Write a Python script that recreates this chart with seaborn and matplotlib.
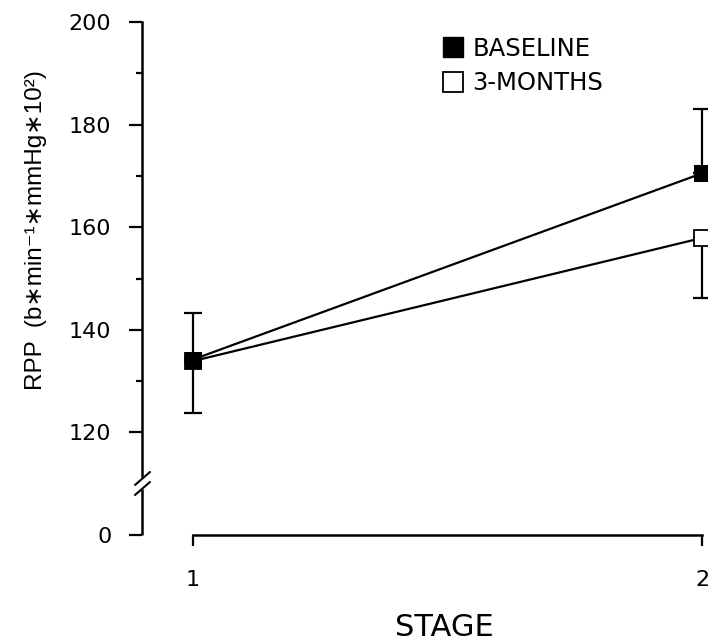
"""
RPP by exercise stage: baseline vs 3 months
y axis broken between 0 and 120
"""

import matplotlib
matplotlib.use("Agg")
import matplotlib.pyplot as plt
from matplotlib.lines import Line2D
import numpy as np
import pandas as pd
import seaborn as sns

# data
stages = [1, 2]
baseline_rpp = [134.2, 170.5]
baseline_err_up = [9.1, 12.6]
months3_rpp = [133.9, 157.9]
months3_err_down = [10.2, 11.7]

group_labels = ["BASELINE", "3-MONTHS"]
y_major = [0, 120, 140, 160, 180, 200]
y_minor = [130, 150, 170, 190]


def fwd(v):
    v = np.asarray(v, dtype=float)
    return np.where(v < 110, 100 + v / 11.0, v)


def inv(d):
    d = np.asarray(d, dtype=float)
    return np.where(d < 110, (d - 100) * 11.0, d)


df = pd.DataFrame({
    "stage": stages * 2,
    "rpp": baseline_rpp + months3_rpp,
    "group": [group_labels[0]] * 2 + [group_labels[1]] * 2,
})

sns.set_style("ticks")
plt.rcParams["font.family"] = ["DejaVu Sans"]
for k in ["text.color", "axes.labelcolor", "xtick.color", "ytick.color", "axes.edgecolor"]:
    plt.rcParams[k] = "black"

fig = plt.figure(figsize=(7.08, 6.44), dpi=100)
ax = fig.add_axes([142 / 708, 109 / 644, 566 / 708, 513 / 644])
ax.set_yscale("function", functions=(fwd, inv))

# error bars first so the markers sit on top
ax.errorbar(stages, baseline_rpp, yerr=[np.zeros(2), baseline_err_up],
            fmt="none", ecolor="black", elinewidth=1.6, capsize=6.5, capthick=1.6, zorder=2)
ax.errorbar(stages, months3_rpp, yerr=[months3_err_down, np.zeros(2)],
            fmt="none", ecolor="black", elinewidth=1.6, capsize=6.5, capthick=1.6, zorder=2)

sub = df[df["group"] == group_labels[1]]
sns.lineplot(data=sub, x="stage", y="rpp", ax=ax, color="black", lw=1.6,
             marker="s", markersize=11, markerfacecolor="white",
             markeredgecolor="black", markeredgewidth=1.3, zorder=3)
sub = df[df["group"] == group_labels[0]]
sns.lineplot(data=sub, x="stage", y="rpp", ax=ax, color="black", lw=1.6,
             marker="s", markersize=11, markerfacecolor="black",
             markeredgecolor="black", zorder=4)

ax.set_xlim(0.9, 2.0118)
ax.set_ylim(0, 200)
ax.set_xticks(stages)
ax.set_xticklabels([str(s) for s in stages])
ax.set_yticks(y_major)
ax.set_yticks(y_minor, minor=True)
ax.set_yticklabels([str(v) for v in y_major])

ax.tick_params(axis="y", which="major", length=9.5, width=1.6, labelsize=16, pad=12.5)
ax.tick_params(axis="y", which="minor", length=4.5, width=1.6)
ax.tick_params(axis="x", length=8, width=1.6, labelsize=16, pad=17)

for s in ["top", "right"]:
    ax.spines[s].set_visible(False)
ax.spines["bottom"].set_bounds(1, 2)
ax.spines["bottom"].set_linewidth(1.8)
# upper part of left spine, lower part drawn by hand below the break
ax.spines["left"].set_bounds(111.5, 200)
ax.spines["left"].set_linewidth(1.8)
ax.plot([0, 0], [0, 0.0897], transform=ax.transAxes, color="black", lw=1.8,
        clip_on=False, solid_capstyle="butt")
px = 1 / 566
py = 1 / 513
for y0 in (0.0975, 0.078):
    ax.plot([-7 * px, 8 * px], [y0, y0 + 13 * py], transform=ax.transAxes,
            color="black", lw=1.5, clip_on=False)

ax.set_xlabel("STAGE", fontsize=22)
ax.xaxis.set_label_coords(0.535, -0.152)
ax.set_ylabel("RPP  (b\u2217min\u207b\u00b9\u2217mmHg\u221710\u00b2)", fontsize=17.5,
              family=["Liberation Sans", "DejaVu Sans"])
ax.yaxis.set_label_coords(-0.168, 0.595)

handles = [
    Line2D([], [], ls="none", marker="s", markersize=15, markerfacecolor="black",
           markeredgecolor="black"),
    Line2D([], [], ls="none", marker="s", markersize=15, markerfacecolor="white",
           markeredgecolor="black", markeredgewidth=1.3),
]
fig.legend(handles, group_labels, loc="upper left", bbox_to_anchor=(441 / 708, 1 - 36.5 / 644),
           frameon=False, fontsize=17.5, handlelength=0.95, handletextpad=0.35,
           labelspacing=0.45, borderpad=0, borderaxespad=0)

fig.savefig("out.png", dpi=100)
plt.close(fig)
